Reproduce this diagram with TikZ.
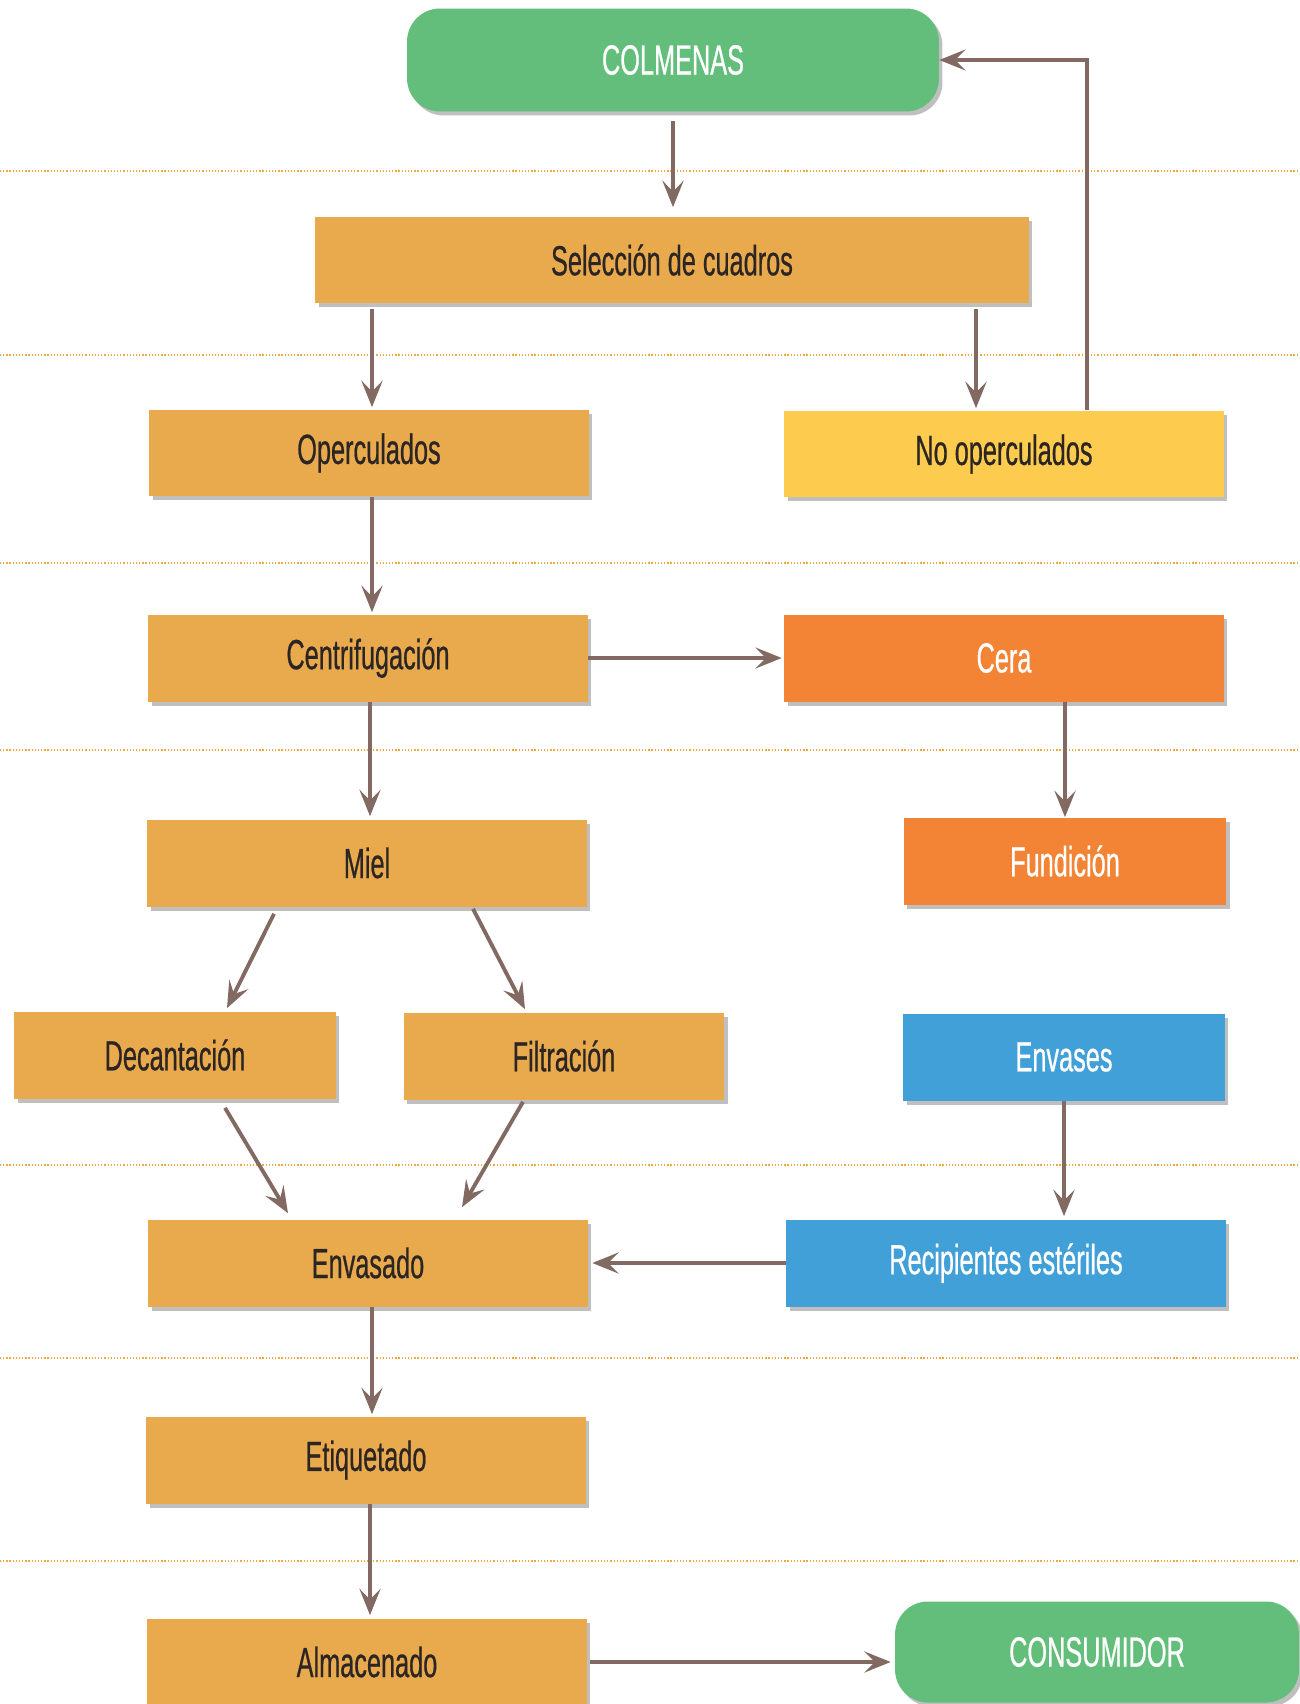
\documentclass[tikz,border=0pt]{standalone}
\usepackage{fontspec}
\setmainfont{Liberation Sans}[FakeStretch=0.6,FakeBold=0.5]
\usetikzlibrary{calc,arrows.meta,shadows}
\definecolor{hive}{HTML}{63BE7B}
\definecolor{honey}{HTML}{E9AA4E}
\definecolor{pale}{HTML}{FDCB4E}
\definecolor{wax}{HTML}{F48435}
\definecolor{jar}{HTML}{42A0D9}
\definecolor{flow}{HTML}{826A62}
\definecolor{ink}{HTML}{2B2523}
\definecolor{rule}{HTML}{F2A840}
\begin{document}
\begin{tikzpicture}[x=0.02cm,y=-0.02cm,
  font=\fontsize{24pt}{28pt}\selectfont,
  proc/.style={fill=honey,text=ink,minimum width=8.8cm,minimum height=1.74cm,inner sep=0pt,
    drop shadow={shadow xshift=0.07cm,shadow yshift=-0.08cm,opacity=0.5}},
  ends/.style={proc,fill=hive,text=white,rounded corners=0.66cm},
  arr/.style={draw,flow,line width=2.2pt,-{Stealth[length=15pt,width=12pt,inset=6pt]}},
  sep/.style={draw,rule,line width=0.7pt,dash pattern=on 0.7pt off 1.1pt}]
\useasboundingbox (0,0) rectangle (1300,1704);

\foreach \y in {171,355,563,750,1165,1358,1561}
  \path[sep] (0,\y) -- (1300,\y);

\node[ends,minimum width=10.64cm,minimum height=2.06cm] (1) at (673,60) {COLMENAS};
\node[proc,minimum width=14.28cm] (2) at (672,260) {Selección de cuadros};
\node[proc] (3) at (369,453) {Operculados};
\node[proc,fill=pale] (4) at (1004,454) {No operculados};
\node[proc] (5) at (368,658) {Centrifugación};
\node[proc,fill=wax,text=white] (6) at (1004,658) {Cera};
\node[proc] (7) at (367,863) {Miel};
\node[proc,fill=wax,text=white,minimum width=6.46cm] (8) at (1065,861) {Fundición};
\node[proc,minimum width=6.44cm] (9) at (175,1055) {Decantación};
\node[proc,minimum width=6.42cm] (10) at (564,1056) {Filtración};
\node[proc,fill=jar,text=white,minimum width=6.44cm] (11) at (1064,1057) {Envases};
\node[proc] (12) at (368,1263) {Envasado};
\node[proc,fill=jar,text=white] (13) at (1006,1263) {Recipientes estériles};
\node[proc] (14) at (366,1460) {Etiquetado};
\node[proc] (15) at (367,1662) {Almacenado};
\node[ends,minimum width=8.08cm,minimum height=2.02cm] (16) at (1097,1652) {CONSUMIDOR};

\path[arr] ($(1.south)+(0,9)$) -- ($(1.south |- 2.north)+(0,-9)$);
\path[arr] ($(2.south -| 3.north)+(3,5)$) -- ($(3.north)+(3,-2)$);
\path[arr] ($(2.south -| 4.north)+(-28,5)$) -- ($(4.north)+(-28,-2)$);
\path[arr] ($(4.north)+(83,0)$) |- (1.east);
\path[arr] ($(3.south)+(3,0)$) -- ($(3.south |- 5.north)+(3,-2)$);
\path[arr] (5.east) -- ($(6.west)+(-2,0)$);
\path[arr] ($(5.south)+(2,0)$) -- ($(5.south |- 7.north)+(2,-3)$);
\path[arr] (6.south -| 8.north) -- (8.north);
\path[arr] ($(7.south)+(-93,7)$) -- ($(9.north)+(52,-3)$);
\path[arr] ($(7.south)+(106,2)$) -- ($(10.north)+(-39,-3)$);
\path[arr] ($(9.south)+(50,9)$) -- ($(12.north)+(-80,-6)$);
\path[arr] ($(10.south)+(-41,2)$) -- ($(12.north)+(94,-12)$);
\path[arr] (11.south) -- ($(11.south |- 13.north)+(0,-3)$);
\path[arr] (13.west) -- ($(12.east)+(4,0)$);
\path[arr] ($(12.south)+(4,0)$) -- ($(12.south |- 14.north)+(4,-2)$);
\path[arr] ($(14.south)+(4,0)$) -- ($(14.south |- 15.north)+(4,-3)$);
\path[arr] ($(15.east)+(3,0)$) -- ($(16.west |- 15.east)+(-4,0)$);
\end{tikzpicture}
\end{document}
